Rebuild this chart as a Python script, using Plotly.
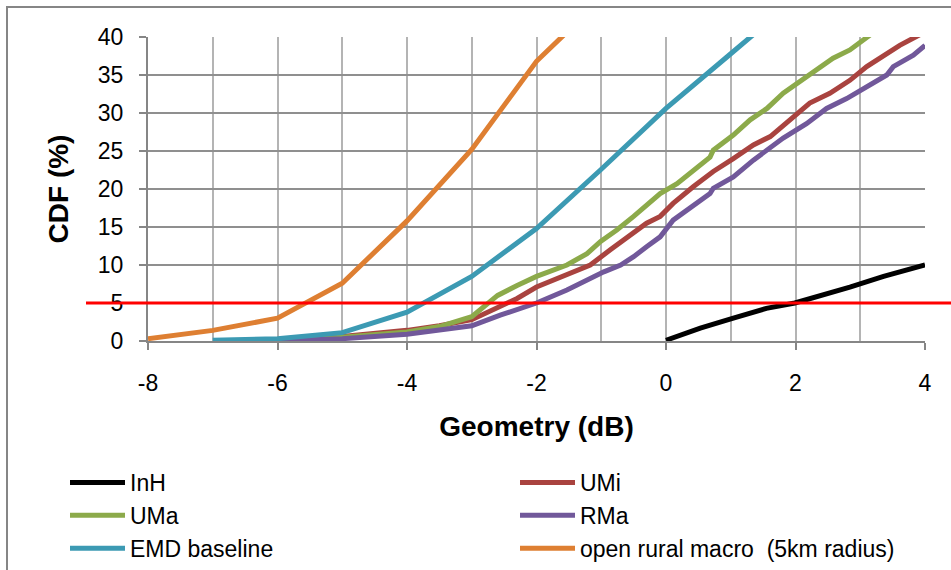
import plotly.graph_objects as go

# ---------------- data ----------------
inh_x = [0.0, 0.53, 1.04, 1.55, 1.99, 2.33, 2.84, 3.36, 3.67, 4.0]
inh_y = [0.1, 1.7, 3.0, 4.3, 5.0, 5.8, 7.1, 8.5, 9.3, 10.0]

umi_x = [-6.0, -5.0, -4.0, -3.5, -3.0, -2.6, -2.3, -2.0, -1.53, -1.17, -0.86, -0.5, -0.3, -0.09,
         0.11, 0.42, 0.73, 1.04, 1.35, 1.61, 1.92, 2.22, 2.53, 2.84, 3.1, 3.36, 3.61, 3.92, 4.0]
umi_y = [0.1, 0.6, 1.4, 2.0, 2.8, 4.3, 5.6, 7.1, 8.7, 10.0, 12.0, 14.2, 15.5, 16.4,
         18.1, 20.3, 22.3, 24.0, 25.8, 26.9, 29.1, 31.3, 32.6, 34.3, 36.1, 37.6, 38.9, 40.3, 40.8]

uma_x = [-6.0, -5.0, -4.0, -3.5, -3.0, -2.8, -2.6, -2.3, -2.0, -1.53, -1.22, -1.01, -0.76, -0.5,
         -0.3, -0.09, 0.17, 0.42, 0.68, 0.73, 1.04, 1.3, 1.56, 1.81, 2.02, 2.33, 2.58, 2.84, 2.99, 3.15, 3.3]
uma_y = [0.1, 0.5, 1.2, 1.9, 3.2, 4.6, 6.0, 7.3, 8.5, 10.0, 11.5, 13.1, 14.6, 16.4,
         17.9, 19.4, 20.7, 22.5, 24.2, 25.1, 27.1, 29.1, 30.6, 32.6, 33.9, 35.7, 37.2, 38.3, 39.2, 40.3, 41.2]

rma_x = [-6.0, -5.0, -4.0, -3.5, -3.0, -2.56, -2.0, -1.53, -1.22, -0.96, -0.7, -0.5, -0.3, -0.09,
         0.11, 0.42, 0.68, 0.73, 1.04, 1.35, 1.56, 1.81, 2.17, 2.48, 2.79, 3.1, 3.41, 3.51, 3.82, 4.0]
rma_y = [0.0, 0.3, 0.9, 1.4, 2.0, 3.4, 5.0, 6.7, 8.0, 9.1, 10.0, 11.1, 12.4, 13.7,
         15.9, 17.9, 19.4, 20.1, 21.6, 23.8, 25.1, 26.7, 28.6, 30.6, 31.9, 33.5, 35.0, 36.1, 37.6, 38.9]

emd_x = [-7, -6, -5, -4, -3, -2, -1, 0, 1, 2]
emd_y = [0.1, 0.3, 1.1, 3.8, 8.5, 14.8, 22.6, 30.6, 37.8, 45.0]

orm_x = [-8, -7, -6, -5, -4, -3, -2, -1]
orm_y = [0.3, 1.4, 3.0, 7.6, 15.8, 25.2, 36.8, 45.0]

threshold = 5

x_ticks = [-8, -6, -4, -2, 0, 2, 4]
x_ticktext = ["-8", "-6", "-4", "-2", "0", "2", "4"]
x_minor = [-8, -7, -6, -5, -4, -3, -2, -1, 0, 1, 2, 3, 4]

names = ["InH", "UMi", "UMa", "RMa", "EMD baseline", "open rural macro  (5km radius)"]
colors = ["#000000", "#A9433F", "#8CAA4A", "#71589A", "#3C9AB3", "#DE7F32"]
xs = [inh_x, umi_x, uma_x, rma_x, emd_x, orm_x]
ys = [inh_y, umi_y, uma_y, rma_y, emd_y, orm_y]

FONT = "Liberation Sans"

fig = go.Figure()
for n, c, x, y in zip(names, colors, xs, ys):
    fig.add_trace(go.Scatter(x=x, y=y, mode="lines", name=n,
                             line=dict(color=c, width=5)))

W, H = 951, 570
L, R, T, B = 148, 26, 37, 229
pw, ph = W - L - R, H - T - B

fig.update_layout(
    width=W, height=H,
    margin=dict(l=L, r=R, t=T, b=B, autoexpand=False),
    paper_bgcolor="white", plot_bgcolor="white",
    font=dict(family=FONT, color="black", size=23),
    showlegend=True,
    legend=dict(orientation="h", xref="paper", yref="paper",
                x=(65 - L) / pw, y=-(461 - (H - B)) / ph, xanchor="left", yanchor="top",
                entrywidth=380, entrywidthmode="pixels", itemwidth=55,
                font=dict(family=FONT, size=23, color="black"),
                tracegroupgap=0, traceorder="normal", bgcolor="rgba(0,0,0,0)"),
    xaxis=dict(range=[-8, 4], tickmode="array", tickvals=x_ticks, ticktext=x_ticktext,
               showgrid=True, gridcolor="#b4b4b4", gridwidth=2,
               minor=dict(tickmode="array", tickvals=x_minor, showgrid=True,
                          gridcolor="#b4b4b4", gridwidth=2, ticks=""),
               showline=True, linecolor="#868686", linewidth=2,
               ticks="outside", ticklen=7, tickwidth=2, tickcolor="#868686",
               ticklabelstandoff=13, zeroline=False,
               title=dict(text="<b>Geometry (dB)</b>", font=dict(size=28, family=FONT),
                          standoff=22)),
    yaxis=dict(range=[0, 40], dtick=5, showgrid=True,
               gridcolor="#8f8f8f", gridwidth=2,
               showline=True, linecolor="#868686", linewidth=2,
               ticks="outside", ticklen=7, tickwidth=2, tickcolor="#868686",
               ticklabelstandoff=11, zeroline=False,
               title=dict(text="<b>CDF (%)</b>", font=dict(size=28, family=FONT),
                          standoff=21)),
)

# chart-area border (top and left edges visible in the frame), drawn as one open path
px = lambda v: (v - L) / pw           # screen px -> paper x
py = lambda v: 1 - (v - T) / ph       # screen px -> paper y
border_path = "M {:.5f},{:.5f} L {:.5f},{:.5f} L {:.5f},{:.5f}".format(
    px(7), py(H + 5), px(7), py(7), px(W + 5), py(7))
fig.add_shape(type="path", xref="paper", yref="paper", path=border_path,
              line=dict(color="#868686", width=2), layer="above")

# 5 % threshold line
fig.add_shape(type="line", xref="paper", yref="y",
              x0=px(86), x1=px(W), y0=threshold, y1=threshold,
              line=dict(color="#ff0000", width=3))

fig.write_html("out.html", config={"displayModeBar": False},
               post_script="document.body.style.margin='0';document.body.style.overflow='hidden';")
